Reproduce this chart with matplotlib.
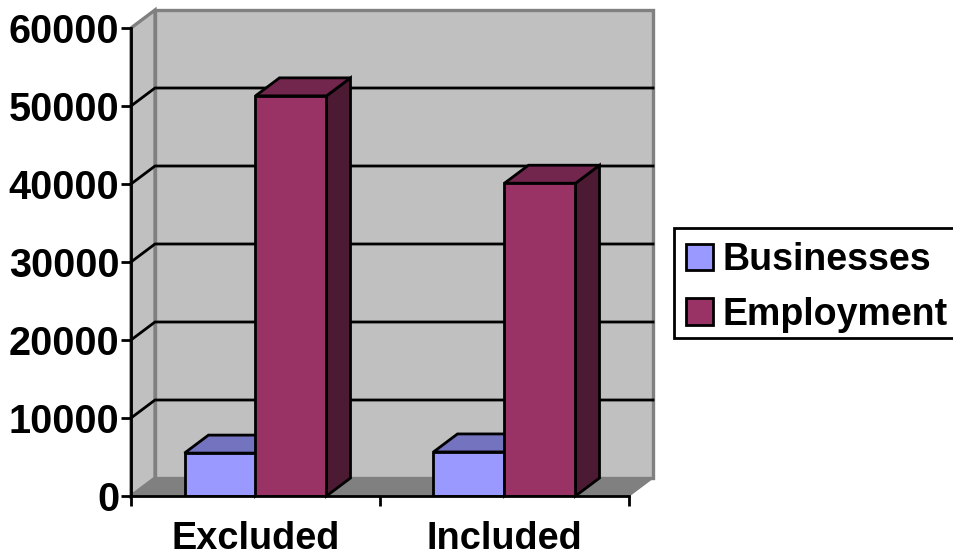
import matplotlib
matplotlib.use('Agg')
import matplotlib.pyplot as plt
from matplotlib.patches import Polygon, Rectangle

categories = ['Excluded', 'Included']
series_names = ['Businesses', 'Employment']
businesses = [5500, 5650]
employment = [51300, 40100]
y_ticks = [0, 10000, 20000, 30000, 40000, 50000, 60000]

front_colors = ['#9999FF', '#993366']
top_colors = ['#7373BF', '#73264D']
side_colors = ['#4D4D80', '#4D1A33']

W, H = 954, 553
plt.rcParams['font.family'] = ['Liberation Sans', 'DejaVu Sans']
plt.rcParams['font.weight'] = 'bold'

fig = plt.figure(figsize=(W / 100, H / 100), dpi=100, facecolor='white')
ax = fig.add_axes([131 / W, (H - 496) / H, 498 / W, 468 / H])
ax.set_xlim(0, 2)
ax.set_ylim(0, 60000)
ax.patch.set_visible(False)

# depth of the fake 3d box, in data units
dx = 24 / 249
dy = 18 / 78 * 10000
bar_w = 71 / 249
lw = 2.0


def face(pts, color, edge='black', z=3, width=lw):
    ax.add_patch(Polygon(pts, closed=True, facecolor=color, edgecolor=edge,
                         linewidth=width, joinstyle='miter', clip_on=False, zorder=z))


# walls and floor
face([(0, 0), (dx, dy), (2 + dx, dy), (2, 0)], '#808080', edge='#808080', z=1, width=1)
face([(dx, dy), (dx, 60000 + dy), (2 + dx, 60000 + dy), (2 + dx, dy)], '#C0C0C0', edge='#808080', z=1, width=2.4)
face([(0, 0), (0, 60000), (dx, 60000 + dy), (dx, dy)], '#C0C0C0', edge='#808080', z=1, width=2.4)

# gridlines run along the side wall and across the back wall
for v in y_ticks[1:-1]:
    ax.plot([0, dx, 2 + dx], [v, v + dy, v + dy], color='black', lw=lw, zorder=2,
            clip_on=False, solid_joinstyle='miter')

handles = []
for s, vals in enumerate([businesses, employment]):
    for c, v in enumerate(vals):
        x0 = c + 0.5 - bar_w + s * bar_w
        x1 = x0 + bar_w
        face([(x1, 0), (x1 + dx, dy), (x1 + dx, v + dy), (x1, v)], side_colors[s], z=3 + s)
        face([(x0, v), (x0 + dx, v + dy), (x1 + dx, v + dy), (x1, v)], top_colors[s], z=3 + s)
    bars = ax.bar([c + 0.5 - bar_w + s * bar_w for c in range(2)], vals, width=bar_w, align='edge',
                  color=front_colors[s], edgecolor='black', linewidth=lw, zorder=3 + s,
                  label=series_names[s])
    handles.append(bars)

for side in ['top', 'right']:
    ax.spines[side].set_visible(False)
for side in ['left', 'bottom']:
    ax.spines[side].set_linewidth(lw)
    ax.spines[side].set_zorder(6)

ax.set_yticks(y_ticks)
ax.set_xticks([0, 1, 2])
ax.set_xticklabels([])
# category names sit between the ticks
ax.set_xticks([0.5, 1.5], labels=categories, minor=True)
ax.tick_params(axis='x', which='major', length=7.5, width=lw, direction='out')
ax.tick_params(axis='x', which='minor', length=0, pad=18, labelsize=27.3)
ax.tick_params(axis='y', length=7.5, width=lw, direction='out', pad=1, labelsize=28.5)

# legend box runs off the right edge, so it is drawn apart from the legend
fig.add_artist(Rectangle((674 / W, (H - 338) / H), 290 / W, 110 / H, transform=fig.transFigure,
                         facecolor='white', edgecolor='black', linewidth=lw, zorder=1))
fig.legend(handles=handles, labels=series_names, loc='center left',
           bbox_to_anchor=(686 / W, (H - 287.5) / H), borderaxespad=0, fontsize=27,
           frameon=False, handlelength=0.72, handleheight=0.72, handletextpad=0.25,
           labelspacing=0.5, borderpad=0)

fig.savefig('out.png', dpi=100, facecolor='white')
